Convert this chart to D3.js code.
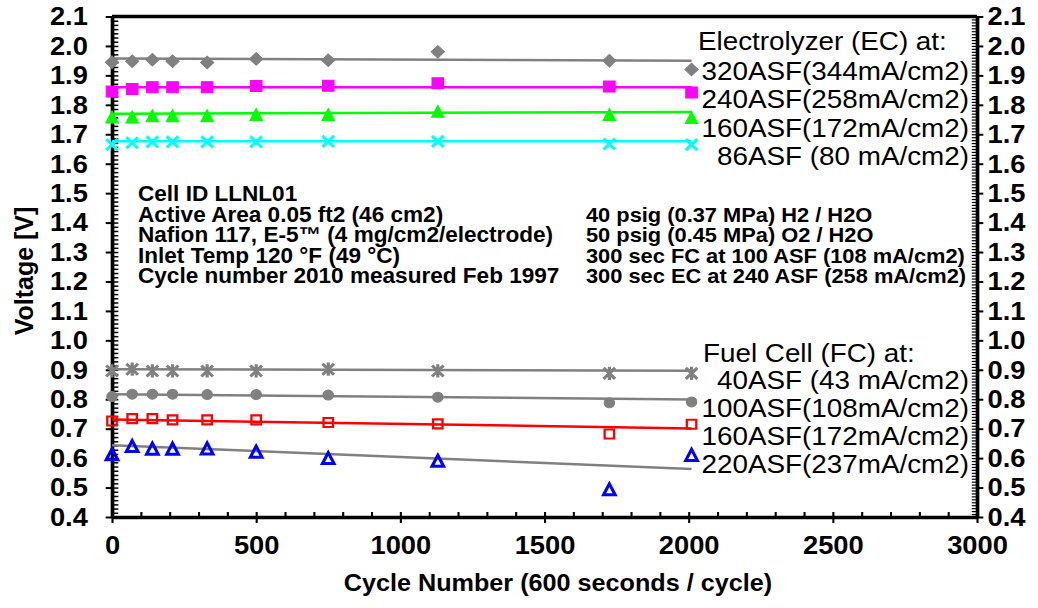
<!DOCTYPE html>
<html>
<head>
<meta charset="utf-8">
<script src="https://cdn.jsdelivr.net/npm/d3@7"></script>
<style>
  body { margin: 0; background: #fff; }
  svg text { font-family: "Liberation Sans", Arial, sans-serif; }
</style>
</head>
<body>
<svg id="chart" width="1038" height="608"></svg>
<script>
// cycle numbers where the cell was measured
const cycles = [0, 70, 140, 210, 330, 500, 750, 1130, 1725, 2010];

// electrolyzer voltages
const ec320 = [1.945, 1.948, 1.953, 1.948, 1.944, 1.956, 1.951, 1.980, 1.950, 1.920];
const ec240 = [1.845, 1.854, 1.860, 1.860, 1.860, 1.864, 1.865, 1.873, 1.862, 1.842];
const ec160 = [1.759, 1.759, 1.763, 1.763, 1.763, 1.767, 1.767, 1.778, 1.767, 1.757];
const ec86  = [1.665, 1.671, 1.674, 1.674, 1.674, 1.674, 1.676, 1.676, 1.667, 1.665];

// fuel cell voltages
const fc40  = [0.896, 0.902, 0.896, 0.896, 0.896, 0.896, 0.902, 0.896, 0.888, 0.888];
const fc100 = [0.809, 0.817, 0.817, 0.817, 0.816, 0.816, 0.814, 0.807, 0.788, 0.791];
const fc160 = [0.726, 0.734, 0.734, 0.730, 0.730, 0.730, 0.721, 0.716, 0.682, 0.715];
const fc220 = [0.613, 0.641, 0.632, 0.632, 0.633, 0.622, 0.600, 0.591, 0.494, 0.611];

// linear trend lines, value at first and last cycle
const trendCycles = [0, 2010];
const trendEC320 = [1.957, 1.950];
const trendEC240 = [1.860, 1.860];
const trendEC160 = [1.770, 1.776];
const trendEC86  = [1.676, 1.676];
const trendFC40  = [0.902, 0.897];
const trendFC100 = [0.817, 0.799];
const trendFC160 = [0.731, 0.701];
const trendFC220 = [0.644, 0.563];

// ticks and texts
const xTicks = [0, 500, 1000, 1500, 2000, 2500, 3000];
const yTicks = [0.4, 0.5, 0.6, 0.7, 0.8, 0.9, 1.0, 1.1, 1.2, 1.3, 1.4, 1.5, 1.6, 1.7, 1.8, 1.9, 2.0, 2.1];
const ecHeader = 'Electrolyzer (EC) at:';
const ecLabels = ['320ASF(344mA/cm2)', '240ASF(258mA/cm2)', '160ASF(172mA/cm2)', '86ASF (80 mA/cm2)'];
const fcHeader = 'Fuel Cell (FC) at:';
const fcLabels = ['40ASF (43 mA/cm2)', '100ASF(108mA/cm2)', '160ASF(172mA/cm2)', '220ASF(237mA/cm2)'];
const infoLeft = ['Cell ID LLNL01', 'Active Area 0.05 ft2 (46 cm2)', 'Nafion 117, E-5\u2122 (4 mg/cm2/electrode)',
                  'Inlet Temp 120 \u00B0F (49 \u00B0C)', 'Cycle number 2010 measured Feb 1997'];
const infoRight = ['40 psig (0.37 MPa) H2 / H2O', '50 psig (0.45 MPa) O2 / H2O',
                   '300 sec FC at 100 ASF (108 mA/cm2)', '300 sec EC at 240 ASF (258 mA/cm2)'];

const GRAY = '#808080';
const series = [
  {values: ec320, trend: trendEC320, line: GRAY,      color: GRAY,      shape: 'diamond',  fill: true},
  {values: ec240, trend: trendEC240, line: '#ff00ff', color: '#ff00ff', shape: 'square',   fill: true},
  {values: ec160, trend: trendEC160, line: '#00ff00', color: '#00ff00', shape: 'triangle', fill: true},
  {values: ec86,  trend: trendEC86,  line: '#00ffff', color: '#00ffff', shape: 'x',        fill: false},
  {values: fc40,  trend: trendFC40,  line: GRAY,      color: GRAY,      shape: 'asterisk', fill: false},
  {values: fc100, trend: trendFC100, line: GRAY,      color: GRAY,      shape: 'circle',   fill: true},
  {values: fc160, trend: trendFC160, line: '#ff0000', color: '#ff0000', shape: 'osquare',  fill: false},
  {values: fc220, trend: trendFC220, line: GRAY,      color: '#0000ff', shape: 'otriangle', fill: false}
];

// the whole picture is slightly wider than tall, so draw in a squeezed frame and stretch it
const SX = 1.05;
const px = v => v / SX;
const svg = d3.select('#chart');
const root = svg.append('g').attr('transform', `scale(${SX},1)`);

const x = d3.scaleLinear().domain([0, 3000]).range([px(112), px(977)]);
const y = d3.scaleLinear().domain([0.4, 2.1]).range([517, 16.5]);

const FONT = '"Liberation Sans", Arial, sans-serif';
const fmt = d3.format('.1f');

// style an axis group: thick black lines, big bold labels
const styleAxis = (g, size) => {
  g.attr('font-family', FONT).attr('font-size', size).attr('font-weight', 'bold');
  g.selectAll('.domain').attr('stroke', '#000').attr('stroke-width', 3.5);
  g.selectAll('.tick line').attr('stroke', '#000').attr('stroke-width', 2);
  g.selectAll('.tick text').attr('fill', '#000');
};

// left axis: majors outside, minors inside
const leftMinor = d3.range(0.4, 2.1, 0.1 / 7);
root.append('g')
  .attr('transform', `translate(${x(0)},0)`)
  .call(d3.axisLeft(y).tickValues(leftMinor).tickSize(-6).tickSizeOuter(0).tickFormat(''))
  .call(g => g.select('.domain').remove())
  .call(g => styleAxis(g, 26))
  .selectAll('.tick line').attr('stroke-width', 1.5);
root.append('g')
  .attr('transform', `translate(${x(0)},0)`)
  .call(d3.axisLeft(y).tickValues(yTicks).tickSize(6).tickSizeOuter(0).tickPadding(17).tickFormat(fmt))
  .call(g => styleAxis(g, 26));

// right axis: dense minors inside
const rightMinor = d3.range(0.4, 2.1, 0.01);
root.append('g')
  .attr('transform', `translate(${x(3000)},0)`)
  .call(d3.axisRight(y).tickValues(rightMinor).tickSize(-5).tickSizeOuter(0).tickFormat(''))
  .call(g => g.select('.domain').remove())
  .call(g => styleAxis(g, 26))
  .selectAll('.tick line').attr('stroke-width', 1.2);
root.append('g')
  .attr('transform', `translate(${x(3000)},0)`)
  .call(d3.axisRight(y).tickValues(yTicks).tickSize(6).tickSizeOuter(0).tickPadding(4).tickFormat(fmt))
  .call(g => styleAxis(g, 26));

// bottom axis: majors down, minors (every 100) up
root.append('g')
  .attr('transform', `translate(0,${y(0.4)})`)
  .call(d3.axisBottom(x).tickValues(d3.range(0, 3001, 100)).tickSize(-5).tickSizeOuter(0).tickFormat(''))
  .call(g => g.select('.domain').remove())
  .call(g => styleAxis(g, 26));
root.append('g')
  .attr('transform', `translate(0,${y(0.4)})`)
  .call(d3.axisBottom(x).tickValues(xTicks).tickSize(6).tickSizeOuter(0).tickPadding(13).tickFormat(d3.format('d')))
  .call(g => styleAxis(g, 26));

// top frame line
root.append('line')
  .attr('x1', x(0)).attr('x2', x(3000))
  .attr('y1', y(2.1)).attr('y2', y(2.1))
  .attr('stroke', '#000').attr('stroke-width', 3.5);

// axis titles
root.append('text')
  .attr('x', px(558)).attr('y', 591)
  .attr('text-anchor', 'middle')
  .attr('font-size', 24).attr('font-weight', 'bold')
  .text('Cycle Number (600 seconds / cycle)');
root.append('text')
  .attr('transform', `translate(${px(33)},271) rotate(-90)`)
  .attr('text-anchor', 'middle')
  .attr('font-size', 25).attr('font-weight', 'bold')
  .text('Voltage [V]');

// trend lines
const trendLine = d3.line().x(d => x(d[0])).y(d => y(d[1]));
series.forEach(s => {
  root.append('path')
    .attr('d', trendLine(trendCycles.map((c, i) => [c, s.trend[i]])))
    .attr('fill', 'none')
    .attr('stroke', s.line)
    .attr('stroke-width', 2.5);
});

// marker shapes
const shapes = {
  diamond:   r => `M0,${-r}L${r},0L0,${r}L${-r},0Z`,
  square:    r => `M${-r},${-r}h${2 * r}v${2 * r}h${-2 * r}Z`,
  osquare:   r => `M${-r},${-r}h${2 * r}v${2 * r}h${-2 * r}Z`,
  triangle:  r => `M0,${-r}L${r},${r}L${-r},${r}Z`,
  otriangle: r => `M0,${-r}L${r},${r}L${-r},${r}Z`,
  x:         r => `M${-r},${-r}L${r},${r}M${-r},${r}L${r},${-r}`,
  asterisk:  r => `M${-r},${-r}L${r},${r}M${-r},${r}L${r},${-r}M0,${-r * 1.2}V${r * 1.2}`,
  circle:    r => `M${r},0A${r},${r} 0 1,1 ${-r},0A${r},${r} 0 1,1 ${r},0Z`
};
const radius = {diamond: 6.3, square: 5.5, osquare: 4.5, triangle: 6, otriangle: 5.5, x: 5.5, asterisk: 5.5, circle: 5};

series.forEach(s => {
  root.append('g').selectAll('path')
    .data(cycles.map((c, i) => [c, s.values[i]]))
    .join('path')
      .attr('transform', d => `translate(${x(d[0])},${y(d[1])})`)
      .attr('d', shapes[s.shape](radius[s.shape]))
      .attr('fill', s.fill ? s.color : 'none')
      .attr('stroke', s.color)
      .attr('stroke-width', s.fill ? 1 : (s.shape === 'osquare' ? 2.2 : 3))
      .attr('stroke-linejoin', 'miter');
});

// series labels on the right
const label = (txt, xPos, yBase, anchor) => root.append('text')
  .attr('x', px(xPos)).attr('y', yBase)
  .attr('text-anchor', anchor)
  .attr('font-size', 26.5)
  .text(txt);
label(ecHeader, 698, 50, 'start');
ecLabels.forEach((t, i) => label(t, 969, [80, 108, 137, 165][i], 'end'));
label(fcHeader, 703, 362, 'start');
fcLabels.forEach((t, i) => label(t, 969, [389, 417, 445, 473][i], 'end'));

// cell description block
const infoY = [201.5, 222, 242.5, 263, 283.5];
infoLeft.forEach((t, i) => root.append('text')
  .attr('x', px(138)).attr('y', infoY[i])
  .attr('font-size', 21.5).attr('font-weight', 'bold')
  .text(t));
infoRight.forEach((t, i) => root.append('text')
  .attr('x', px(586)).attr('y', infoY[i + 1])
  .attr('font-size', 20.8).attr('font-weight', 'bold')
  .text(t));
</script>
</body>
</html>
